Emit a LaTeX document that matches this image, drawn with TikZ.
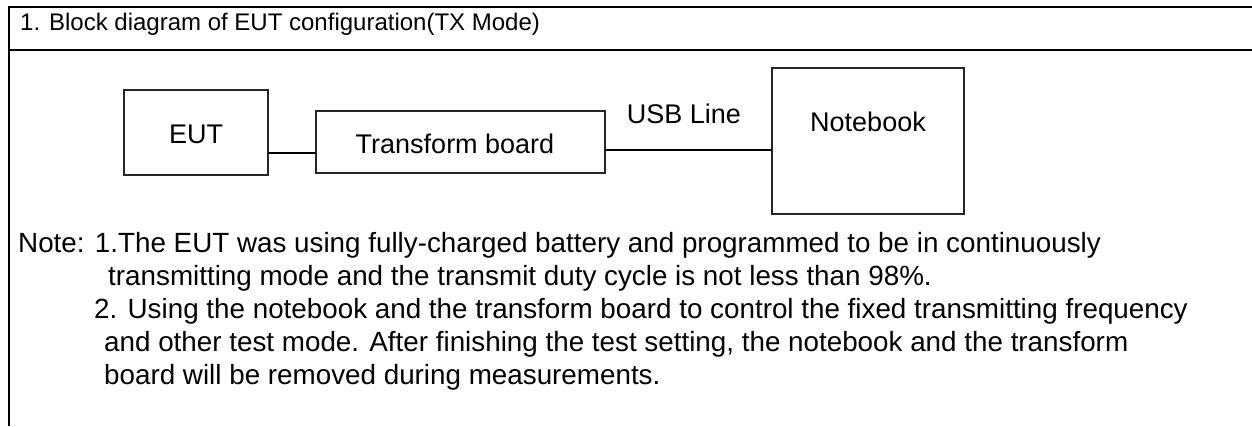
\documentclass[tikz,border=0pt]{standalone}
\usepackage{fontspec}
\setmainfont{Liberation Sans}
\begin{document}
\begin{tikzpicture}[x=1pt,y=-1pt,
  frame/.style={line width=2pt,black},
  block/.style={draw=black!85,line width=1.4pt},
  wire/.style={line width=1.4pt,black},
  boxtext/.style={font=\fontsize{27}{32}\selectfont,inner sep=0pt,anchor=base},
  headtext/.style={font=\fontsize{24}{28}\selectfont,inner sep=0pt,anchor=base west},
  bodytext/.style={font=\fontsize{27.8}{33}\selectfont,inner sep=0pt,anchor=base west}]
\useasboundingbox (0,0) rectangle (1252,426);

% table frame
\draw[frame] (1252,7) -- (9,7) -- (9,426);
\draw[frame] (9,50) -- (1252,50);
\node[headtext] (title) at (20,30) {1. Block diagram of EUT configuration(TX Mode)};

% blocks
\draw[block] (124,90) rectangle (268,175);
\coordinate (eutE) at (268,153);
\node[boxtext] (eut) at (196,143) {EUT};

\draw[block] (316,111) rectangle (605,173);
\coordinate (tbW) at (316,153);
\coordinate (tbE) at (605,150);
\node[boxtext] (tb) at (455,153) {Transform board};

\draw[block] (772,68) rectangle (964,214);
\coordinate (nbW) at (772,150);
\node[boxtext] (nb) at (868,131) {Notebook};

% connections
\draw[wire] (eutE) -- (tbW);
\draw[wire] (tbE) -- (nbW);
\node[boxtext] (usb) at (684,123) {USB Line};

% notes
\node[bodytext] (n1) at (18,252) {Note: 1.The EUT was using fully-charged battery and programmed to be in continuously};
\node[bodytext] (n2) at (108,285) {transmitting mode and the transmit duty cycle is not less than 98\%.};
\node[bodytext] (n3) at (94,318) {2. Using the notebook and the transform board to control the fixed transmitting frequency};
\node[bodytext] (n4) at (104,351) {and other test mode. After finishing the test setting, the notebook and the transform};
\node[bodytext] (n5) at (104,384) {board will be removed during measurements.};
\end{tikzpicture}
\end{document}
